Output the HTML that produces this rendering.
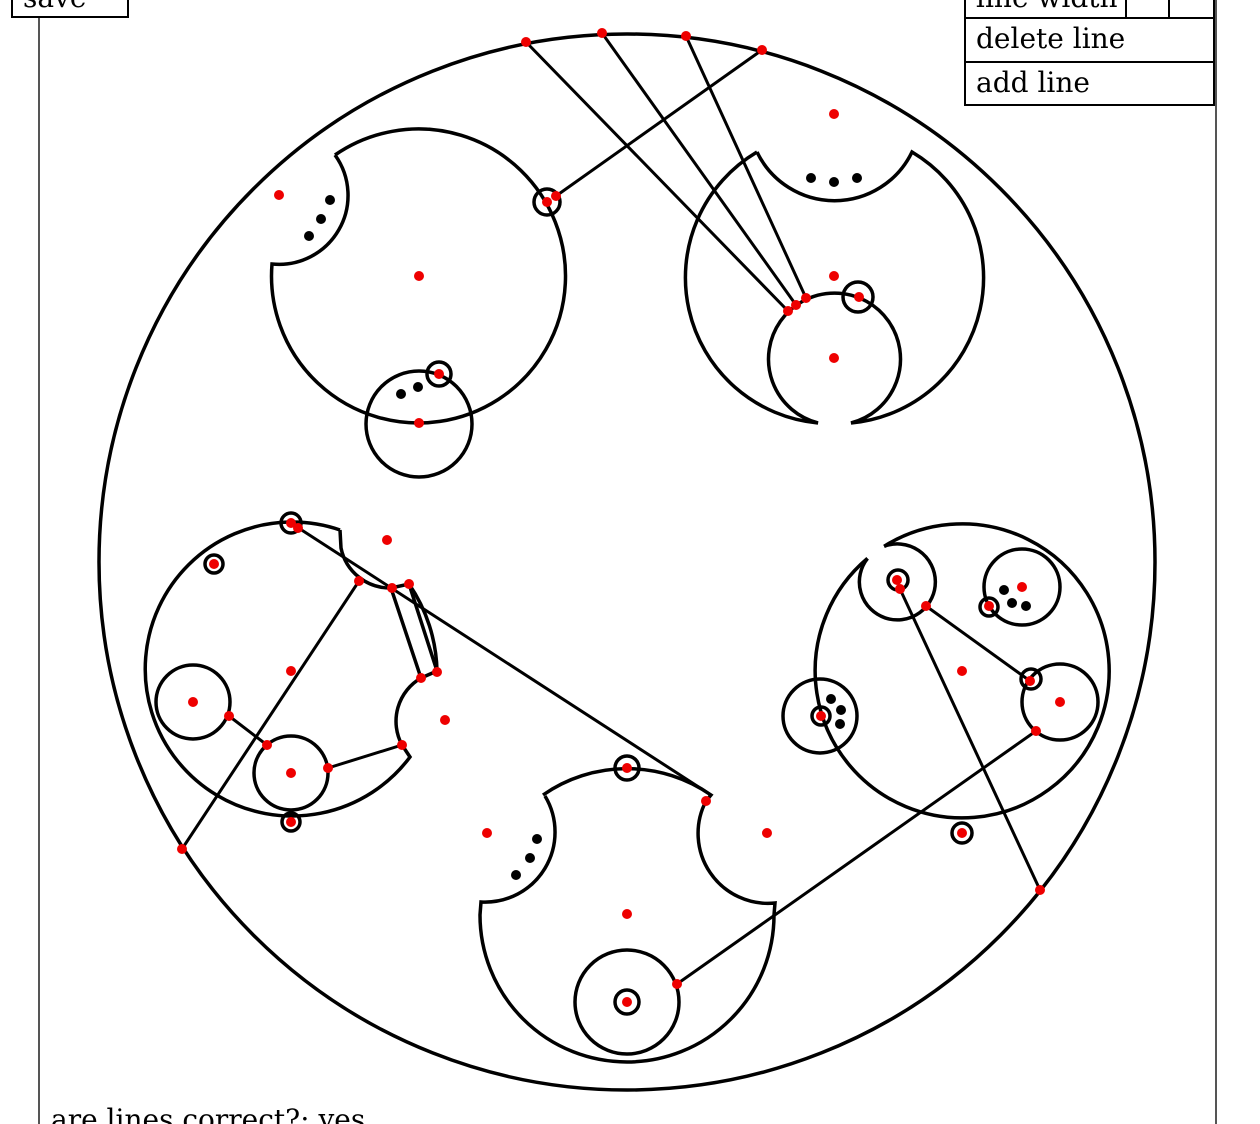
<!DOCTYPE html>
<html><head><meta charset="utf-8"><style>
html,body{margin:0;padding:0;background:#fff;width:1260px;height:1124px;overflow:hidden;position:relative;font-family:"DejaVu Serif","Liberation Serif",serif;}
.b{position:absolute;border:2px solid #000;background:#fff;font-size:28px;line-height:40px;padding:0 10px;box-sizing:border-box;white-space:nowrap;overflow:hidden;}
</style></head><body>
<div style="position:absolute;left:38px;top:0;width:1175px;height:1124px;border-left:2px solid #555;border-right:2px solid #555;"></div>
<svg width="1260" height="1124" style="position:absolute;left:0;top:0" fill="none" stroke="#000" stroke-width="3.5">
<circle cx="627" cy="562" r="528"/>
<path d="M335,155 A147,147 0 1 1 272,264 A69,69 0 0 0 335,155"/>
<circle cx="419" cy="424" r="53"/>
<circle cx="547" cy="202" r="13"/>
<circle cx="439" cy="374" r="12"/>
<path d="M757,152 A146,146 0 0 0 818,423 A66,66 0 1 1 851,423 A146,146 0 0 0 912,152 A86,86 0 0 1 757,152"/>
<circle cx="858" cy="297" r="15"/>
<g stroke-width="3">
<line x1="526" y1="42" x2="788" y2="311"/>
<line x1="602" y1="33" x2="796" y2="305"/>
<line x1="686" y1="36" x2="806" y2="298"/>
<line x1="762" y1="50" x2="556" y2="196"/>
</g>
<path d="M340,530 A147,147 0 1 0 410,757 L402,745 A50,50 0 0 1 421,678 M437,671 L409,584 L391,588 A50,50 0 0 1 341,548 L340,530"/>
<path d="M409,584 A160,160 0 0 1 437,671"/>
<line x1="391" y1="588" x2="421" y2="678"/>
<line x1="421" y1="678" x2="437" y2="671"/>
<circle cx="193" cy="702" r="37"/>
<circle cx="291" cy="773" r="37"/>
<circle cx="214" cy="564" r="9"/>
<circle cx="291" cy="822" r="9"/>
<circle cx="291" cy="523" r="10"/>
<g stroke-width="3">
<line x1="229" y1="716" x2="267" y2="745"/>
<line x1="328" y1="768" x2="402" y2="745"/>
<line x1="359" y1="581" x2="182" y2="849"/>
<line x1="297" y1="527" x2="711" y2="795"/>
</g>
<path d="M543,795 A147,147 0 0 1 711,795 L706,801 A70,70 0 0 0 775,903 L774,915 A147,147 0 0 1 480,915 L481,902 A70,70 0 0 0 545,796"/>
<circle cx="627" cy="1002" r="52"/>
<circle cx="627" cy="1002" r="12"/>
<circle cx="627" cy="768" r="12"/>
<path d="M884.1,546.3 A147,147 0 1 1 867.5,558.4"/>
<path d="M867.5,558.4 A38,38 0 1 0 884.1,546.3"/>
<circle cx="1022" cy="587" r="38"/>
<circle cx="1060" cy="702" r="38"/>
<circle cx="820" cy="716" r="37"/>
<circle cx="1031" cy="679" r="10"/>
<circle cx="989" cy="607" r="9"/>
<circle cx="898" cy="580" r="10"/>
<circle cx="962" cy="833" r="10"/>
<circle cx="821" cy="716" r="9"/>
<g stroke-width="3">
<line x1="926" y1="606" x2="1030" y2="681"/>
<line x1="900" y1="589" x2="1040" y2="890"/>
<line x1="1036" y1="731" x2="677" y2="984"/>
</g>
<g fill="#000" stroke="none">
<circle cx="330" cy="200" r="5"/><circle cx="321" cy="219" r="5"/><circle cx="309" cy="236" r="5"/>
<circle cx="811" cy="178" r="5"/><circle cx="834" cy="182" r="5"/><circle cx="857" cy="178" r="5"/>
<circle cx="401" cy="394" r="5"/><circle cx="418" cy="387" r="5"/>
<circle cx="537" cy="839" r="5"/><circle cx="530" cy="858" r="5"/><circle cx="516" cy="875" r="5"/>
<circle cx="1004" cy="590" r="5"/><circle cx="1012" cy="603" r="5"/><circle cx="1026" cy="606" r="5"/>
<circle cx="831" cy="699" r="5"/><circle cx="841" cy="710" r="5"/><circle cx="840" cy="724" r="5"/>
</g>
<g fill="#e00" stroke="none">
<circle cx="526" cy="42" r="5"/><circle cx="602" cy="33" r="5"/><circle cx="686" cy="36" r="5"/><circle cx="762" cy="50" r="5"/>
<circle cx="834" cy="114" r="5"/><circle cx="834" cy="276" r="5"/><circle cx="834" cy="358" r="5"/>
<circle cx="788" cy="311" r="5"/><circle cx="796" cy="305" r="5"/><circle cx="806" cy="298" r="5"/><circle cx="859" cy="297" r="5"/>
<circle cx="279" cy="195" r="5"/><circle cx="419" cy="276" r="5"/><circle cx="419" cy="423" r="5"/><circle cx="439" cy="374" r="5"/>
<circle cx="547" cy="202" r="5"/><circle cx="556" cy="196" r="5"/>
<circle cx="387" cy="540" r="5"/><circle cx="291" cy="671" r="5"/><circle cx="445" cy="720" r="5"/>
<circle cx="193" cy="702" r="5"/><circle cx="291" cy="773" r="5"/><circle cx="214" cy="564" r="5"/><circle cx="291" cy="822" r="5"/>
<circle cx="291" cy="523" r="5"/><circle cx="298" cy="528" r="5"/><circle cx="359" cy="581" r="5"/><circle cx="392" cy="588" r="5"/>
<circle cx="409" cy="584" r="5"/><circle cx="421" cy="678" r="5"/><circle cx="437" cy="672" r="5"/><circle cx="402" cy="745" r="5"/>
<circle cx="229" cy="716" r="5"/><circle cx="267" cy="745" r="5"/><circle cx="328" cy="768" r="5"/><circle cx="182" cy="849" r="5"/>
<circle cx="487" cy="833" r="5"/><circle cx="767" cy="833" r="5"/><circle cx="627" cy="914" r="5"/><circle cx="627" cy="1002" r="5"/>
<circle cx="627" cy="768" r="5"/><circle cx="706" cy="801" r="5"/><circle cx="677" cy="984" r="5"/>
<circle cx="962" cy="671" r="5"/><circle cx="1022" cy="587" r="5"/><circle cx="1060" cy="702" r="5"/><circle cx="821" cy="716" r="5"/>
<circle cx="897" cy="580" r="5"/><circle cx="900" cy="589" r="5"/><circle cx="926" cy="606" r="5"/><circle cx="989" cy="606" r="5"/>
<circle cx="1030" cy="681" r="5"/><circle cx="1036" cy="731" r="5"/><circle cx="1040" cy="890" r="5"/><circle cx="962" cy="833" r="5"/>
</g>
</svg>
<div class="b" style="left:11px;top:-24px;width:118px;height:42px;">save</div>
<div class="b" style="left:964px;top:-24px;width:163px;height:43px;padding-left:10px;">line width</div>
<div class="b" style="left:1125px;top:-24px;width:45px;height:43px;"></div>
<div class="b" style="left:1168px;top:-24px;width:47px;height:43px;"></div>
<div class="b" style="left:964px;top:17px;width:251px;height:46px;">delete line</div>
<div class="b" style="left:964px;top:61px;width:251px;height:45px;">add line</div>
<div style="position:absolute;left:51px;top:1100px;font-size:28px;line-height:40px;white-space:nowrap;">are lines correct?: yes</div>
</body></html>
